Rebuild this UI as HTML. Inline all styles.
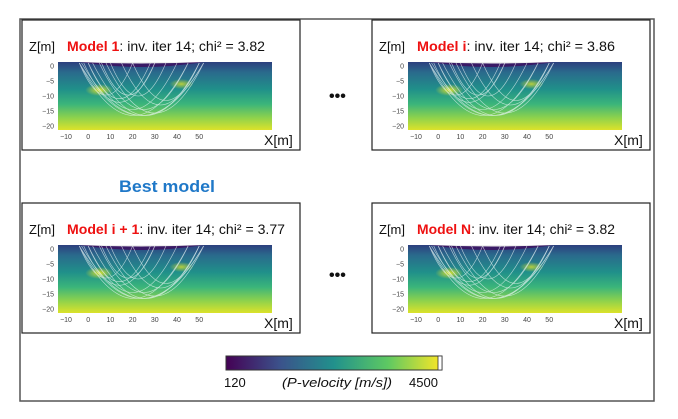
<!DOCTYPE html>
<html><head><meta charset="utf-8">
<style>
html,body{margin:0;padding:0;background:#fff;width:678px;height:419px;overflow:hidden}
svg{display:block;font-family:"Liberation Sans",sans-serif}
</style></head>
<body>
<svg id="fig" width="678" height="419" viewBox="0 0 678 419">
<defs>
<linearGradient id="vel" x1="0" y1="0" x2="0" y2="1">
<stop offset="0" stop-color="#2d3f7e"/>
<stop offset="0.15" stop-color="#2a6a8c"/>
<stop offset="0.4" stop-color="#20908a"/>
<stop offset="0.62" stop-color="#3bb57a"/>
<stop offset="0.82" stop-color="#8ed24c"/>
<stop offset="1" stop-color="#dce22a"/>
</linearGradient>
<linearGradient id="cbar" x1="0" y1="0" x2="1" y2="0">
<stop offset="0" stop-color="#440154"/>
<stop offset="0.25" stop-color="#3b528b"/>
<stop offset="0.5" stop-color="#21918c"/>
<stop offset="0.75" stop-color="#5ec962"/>
<stop offset="1" stop-color="#fde725"/>
</linearGradient>
<radialGradient id="bowl" cx="0.5" cy="0" r="0.6">
<stop offset="0" stop-color="#2b4e88" stop-opacity="0.8"/>
<stop offset="1" stop-color="#2b4e88" stop-opacity="0"/>
</radialGradient>
<radialGradient id="spot" cx="0.5" cy="0.5" r="0.5">
<stop offset="0" stop-color="#d9e02c"/>
<stop offset="1" stop-color="#d9e02c" stop-opacity="0"/>
</radialGradient>
<clipPath id="plotclip"><rect x="36" y="42" width="214" height="68"/></clipPath>
</defs>
<rect x="20" y="19" width="634" height="382" fill="none" stroke="#555" stroke-width="1.5"/>
<text x="119" y="192" font-size="17" font-weight="bold" fill="#1f78c8" textLength="96" lengthAdjust="spacingAndGlyphs">Best model</text>
<text x="329" y="101" font-size="16" font-weight="bold" fill="#111">•••</text>
<text x="329" y="280" font-size="16" font-weight="bold" fill="#111">•••</text>
<g id="panels"></g>
<rect x="226" y="356" width="216" height="14" fill="url(#cbar)" stroke="#333" stroke-width="1"/>
<rect x="438" y="356" width="4" height="14" fill="#fff" stroke="#333" stroke-width="0.8"/>
<text x="224" y="387" font-size="13" fill="#111">120</text>
<text x="282" y="387" font-size="13" font-style="italic" fill="#111" textLength="110" lengthAdjust="spacingAndGlyphs">(P-velocity [m/s])</text>
<text x="409" y="387" font-size="13" fill="#111">4500</text>
</svg>
<script>
const panelNames = ["Model 1","Model i","Model i + 1","Model N"];
const panelChi = ["3.82","3.86","3.77","3.82"];
const panelX = [22,372,22,372];
const panelY = [20,20,203,203];
const xTicks = [-10,0,10,20,30,40,50];
const zTicks = [0,-5,-10,-15,-20];
const NS="http://www.w3.org/2000/svg";
const root=document.getElementById('panels');
function mk(tag,attrs,parent){const e=document.createElementNS(NS,tag);for(const k in attrs)e.setAttribute(k,attrs[k]);parent.appendChild(e);return e;}
for(let p=0;p<4;p++){
  const g=mk('g',{transform:`translate(${panelX[p]},${panelY[p]})`},root);
  
  
  mk('rect',{x:0,y:0,width:278,height:130,fill:'#fff',stroke:'#222','stroke-width':1.2},g);
  const zl=mk('text',{x:7,y:31,'font-size':13,fill:'#111'},g);zl.textContent='Z[m]';
  
  
  const tw=p===2?218:198;
  const t=mk('text',{x:45,y:31,'font-size':14,fill:'#111',textLength:tw,lengthAdjust:'spacingAndGlyphs'},g);
  
  
  const r=mk('tspan',{fill:'#ee1111','font-weight':'bold'},t);r.textContent=panelNames[p];
  const s=mk('tspan',{},t);s.textContent=': inv. iter 14; chi² = '+panelChi[p];
  const px=36,py=42,pw=214,ph=68;
  const xs=v=>px+8+(v+10)*2.22, zs=v=>py+4-v*(ph-8)/20;
  const pl=mk('g',{'clip-path':'url(#plotclip)'},g);
  
  
  mk('rect',{x:px,y:py,width:pw,height:ph,fill:'url(#vel)'},pl);
  mk('ellipse',{cx:px+105,cy:py,rx:95,ry:40,fill:'url(#bowl)'},pl);
  mk('ellipse',{cx:xs(5),cy:zs(-8),rx:14,ry:6,fill:'url(#spot)'},pl);
  mk('ellipse',{cx:xs(42),cy:zs(-6),rx:12,ry:5,fill:'url(#spot)',opacity:0.8},pl);
  mk('path',{d:`M${xs(-4)} ${py} Q${xs(24)} ${py+10} ${xs(52)} ${py} Z`,fill:'#3a1a66'},pl);
  mk('path',{d:`M${xs(-4)} ${py} Q${xs(24)} ${py+3} ${xs(52)} ${py} Z`,fill:'#eee'},pl);
  const rays=mk('g',{stroke:'#e8f4f4','stroke-width':0.6,fill:'none',opacity:0.75},pl);
  const ends=[[-4,20],[-2,30],[0,40],[2,50],[5,45],[8,52],[10,35],[-4,45],[15,50],[-3,52],[20,50],[0,28],[-4,52],[6,30]];
  ends.forEach(([a,b])=>{const d=Math.max(-3-(b-a)*0.3,-17);mk('path',{d:`M${xs(a)} ${py+1} Q${xs((a+b)/2)} ${zs(d*2)} ${xs(b)} ${py+1}`},rays);});
  xTicks.forEach(v=>{const tx=mk('text',{x:xs(v),y:py+ph+9,'font-size':7,fill:'#444','text-anchor':'middle'},g);tx.textContent=String(v).replace('-','−');
    
    });
  zTicks.forEach(v=>{const tz=mk('text',{x:px-4,y:zs(v)+2.5,'font-size':7,fill:'#444','text-anchor':'end'},g);tz.textContent=String(v).replace('-','−');
    
    });
  const xl=mk('text',{x:242,y:125,'font-size':14,fill:'#111'},g);xl.textContent='X[m]';
  
  
}
</script>
</body></html>
